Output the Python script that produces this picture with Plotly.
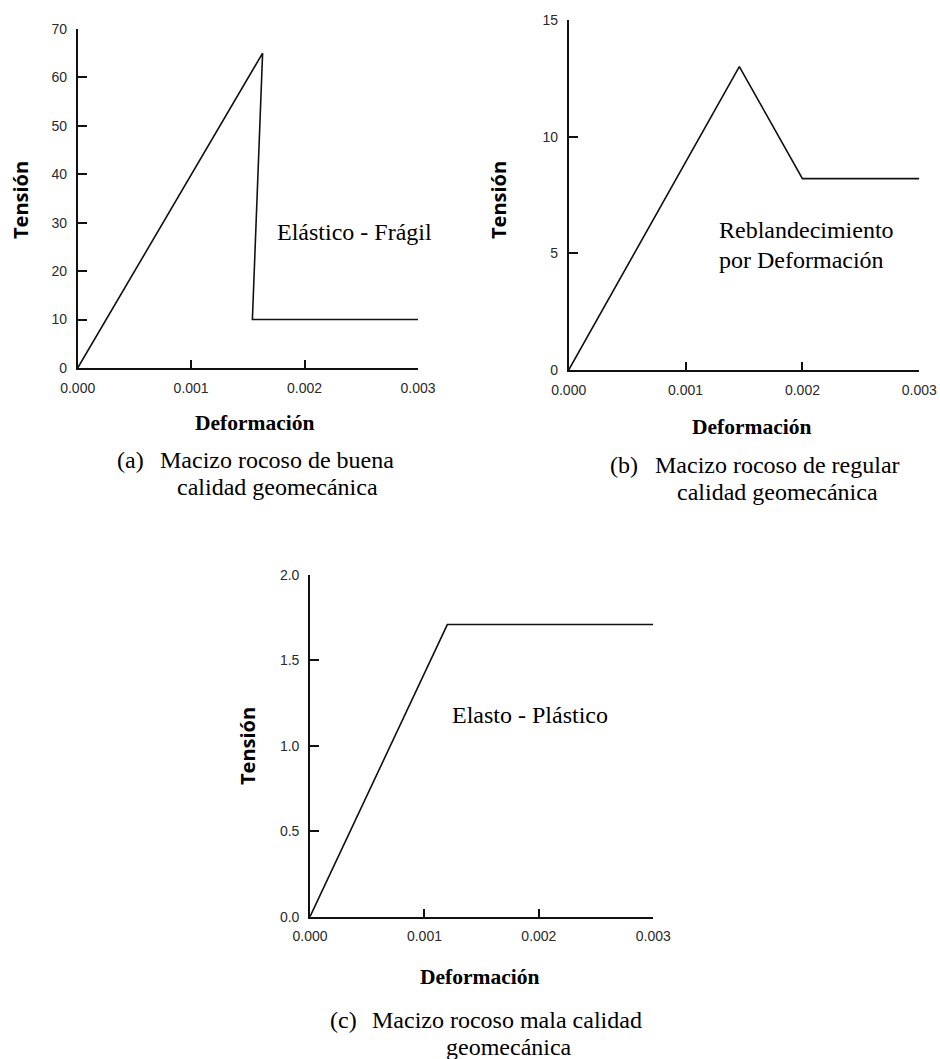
import plotly.graph_objects as go

# ---- data ----
strain_a = [0.0, 0.00163, 0.00154, 0.003]
stress_a = [0.0, 65.0, 10.0, 10.0]
strain_b = [0.0, 0.00146, 0.002, 0.003]
stress_b = [0.0, 13.0, 8.2, 8.2]
strain_c = [0.0, 0.0012, 0.003]
stress_c = [0.0, 1.71, 1.71]

xticks = [0.0, 0.001, 0.002, 0.003]
yticks_a = [0, 10, 20, 30, 40, 50, 60, 70]
yticks_b = [0, 5, 10, 15]
yticks_c = [0.0, 0.5, 1.0, 1.5, 2.0]

W, H = 940, 1059
def px(x): return x / W
def py(y): return 1 - y / H

LINE = "#111111"
TICKC = "#2a2a2a"
SANS = "Liberation Sans, Arial, sans-serif"
SERIF = "Liberation Serif, Times New Roman, serif"
TITLE = "Open Sans, sans-serif"

fig = go.Figure()
fig.add_trace(go.Scatter(x=strain_a, y=stress_a, mode="lines", line=dict(color=LINE, width=1.6),
                         xaxis="x", yaxis="y", showlegend=False, hoverinfo="skip"))
fig.add_trace(go.Scatter(x=strain_b, y=stress_b, mode="lines", line=dict(color=LINE, width=1.6),
                         xaxis="x2", yaxis="y2", showlegend=False, hoverinfo="skip"))
fig.add_trace(go.Scatter(x=strain_c, y=stress_c, mode="lines", line=dict(color=LINE, width=1.6),
                         xaxis="x3", yaxis="y3", showlegend=False, hoverinfo="skip"))

def xax(dom, anchor):
    return dict(domain=dom, anchor=anchor, range=[0, 0.003], tickvals=xticks, tickformat=".3f",
                showline=True, linecolor=LINE, linewidth=1.6, ticks="inside", ticklen=8,
                tickwidth=1.6, tickcolor=LINE, showgrid=False, zeroline=False,
                tickfont=dict(family=SANS, size=14, color=TICKC), ticklabelstandoff=6,
                fixedrange=True, automargin=False)

def yax(dom, anchor, rng, vals, fmt):
    return dict(domain=dom, anchor=anchor, range=rng, tickvals=vals, tickformat=fmt,
                showline=True, linecolor=LINE, linewidth=1.6, ticks="inside", ticklen=9,
                tickwidth=1.6, tickcolor=LINE, showgrid=False, zeroline=False,
                tickfont=dict(family=SANS, size=14, color=TICKC), ticklabelstandoff=6,
                fixedrange=True, automargin=False)

fig.update_layout(
    width=W, height=H, margin=dict(l=0, r=0, t=0, b=0, pad=0),
    paper_bgcolor="white", plot_bgcolor="white", showlegend=False,
    xaxis=xax([px(77.7), px(418)], "y"),
    yaxis=yax([py(368), py(29)], "x", [0, 70], yticks_a, "d"),
    xaxis2=xax([px(568.7), px(919.3)], "y2"),
    yaxis2=yax([py(370), py(20)], "x2", [0, 15], yticks_b, "d"),
    xaxis3=xax([px(310), px(653.3)], "y3"),
    yaxis3=yax([py(916.7), py(575)], "x3", [0, 2.0], yticks_c, ".1f"),
)

ann = []
def text(t, x, y, size, family, xanchor="center", bold=False, angle=0):
    if bold:
        t = "<b>" + t + "</b>"
    ann.append(dict(text=t, x=px(x), y=py(y), xref="paper", yref="paper", showarrow=False,
                    xanchor=xanchor, yanchor="middle", textangle=angle,
                    font=dict(family=family, size=size, color="#000000")))

# y titles
text("Tensión", 20, 200, 20, TITLE, bold=True, angle=-90)
text("Tensión", 498, 200, 20, TITLE, bold=True, angle=-90)
text("Tensión", 247, 746, 20, TITLE, bold=True, angle=-90)
# x titles
text("Deformación", 254, 423, 21.5, SERIF, bold=True)
text("Deformación", 751, 427, 21.5, SERIF, bold=True)
text("Deformación", 479.5, 977, 21.5, SERIF, bold=True)
# in-plot labels
text("Elástico - Frágil", 354.7, 232, 24, SERIF)
text("Reblandecimiento", 717, 230, 24, SERIF, xanchor="left")
text("por Deformación", 717, 260, 24, SERIF, xanchor="left")
text("Elasto - Plástico", 530, 715, 24, SERIF)
# captions
text("(a)", 115, 460, 24, SERIF, xanchor="left")
text("Macizo rocoso de buena", 277, 460, 24, SERIF)
text("calidad geomecánica", 277, 487, 24, SERIF)
text("(b)", 608, 465, 24, SERIF, xanchor="left")
text("Macizo rocoso de regular", 777, 465, 24, SERIF)
text("calidad geomecánica", 777, 492, 24, SERIF)
text("(c)", 328, 1020, 24, SERIF, xanchor="left")
text("Macizo rocoso mala calidad", 507, 1020, 24, SERIF)
text("geomecánica", 508.7, 1047, 24, SERIF)

fig.update_layout(annotations=ann)
fig.write_html("out.html")
